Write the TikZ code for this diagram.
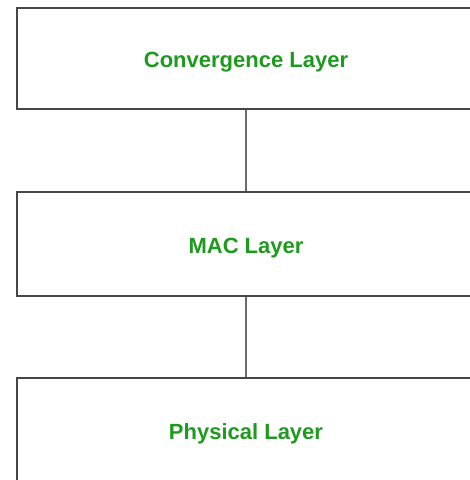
\documentclass[tikz,border=0pt]{standalone}
\usepackage{fontspec}
\setmainfont{Liberation Sans}
\definecolor{lblgreen}{RGB}{30,155,30}
\definecolor{edgegray}{RGB}{70,70,70}
\begin{document}
\begin{tikzpicture}[x=1pt,y=1pt,
  layerbox/.style={draw=edgegray, line width=1.3pt, fill=white, minimum width=458pt, inner sep=0pt},
  layertext/.style={font=\bfseries\fontsize{22}{24}\selectfont, text=lblgreen, inner sep=0pt},
  link/.style={draw=edgegray!80, line width=1.3pt}]
\useasboundingbox (0,0) rectangle (470,480);
\clip (0,0) rectangle (470,480);
\node[layerbox, minimum height=101pt] (conv) at (246,421.5) {};
\node[layerbox, minimum height=104pt] (mac) at (246,236) {};
\node[layerbox, minimum height=104pt] (phys) at (246,50) {};
\node[layertext] (convt) at ([yshift=-3.5pt]conv.center) {Convergence Layer};
\node[layertext] (mact) at ([yshift=-4pt]mac.center) {MAC Layer};
\node[layertext] (physt) at ([yshift=-4pt]phys.center) {Physical Layer};
\draw[link] (conv.south) -- (mac.north);
\draw[link] (mac.south) -- (phys.north);
\end{tikzpicture}
\end{document}
